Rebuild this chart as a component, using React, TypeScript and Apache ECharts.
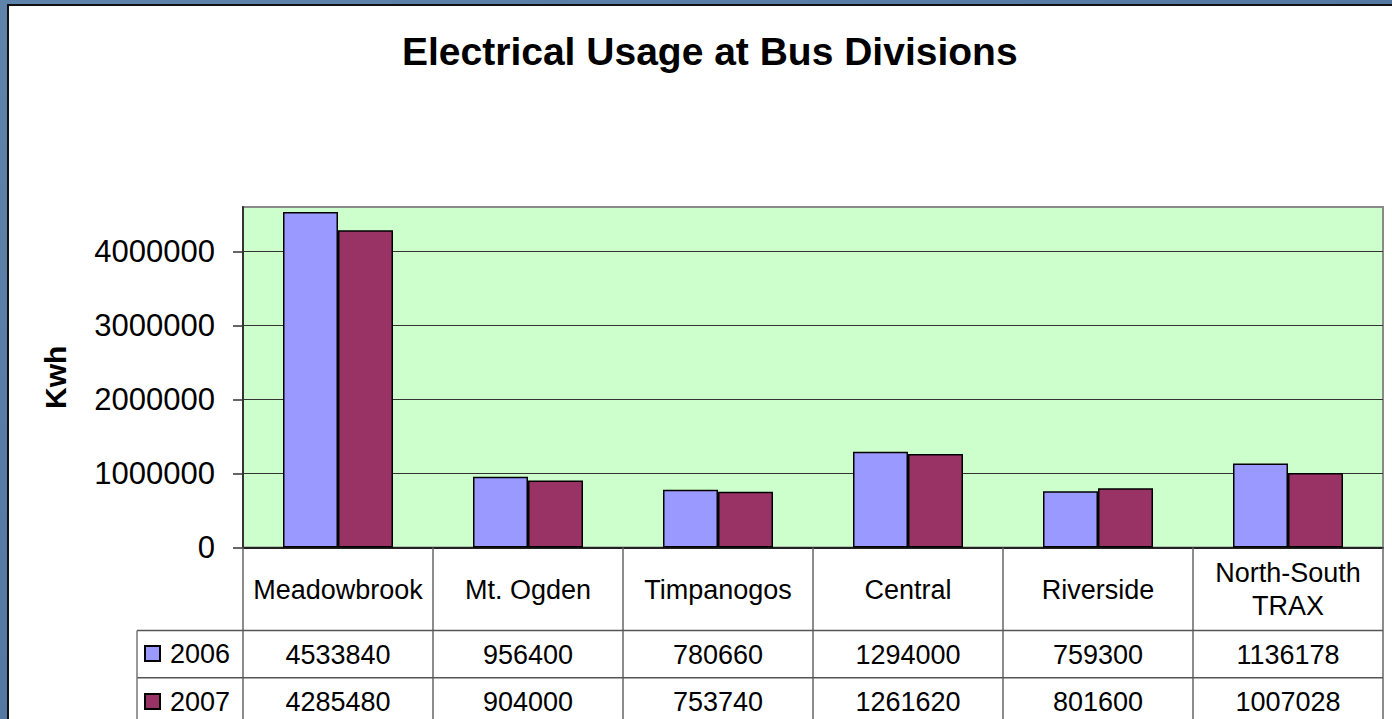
import React, { useEffect, useRef } from "react";
import * as echarts from "echarts";

const chartTitle = "Electrical Usage at Bus Divisions";
const yAxisName = "Kwh";
const categories = ["Meadowbrook", "Mt. Ogden", "Timpanogos", "Central", "Riverside", "North-South\nTRAX"];
const seriesNames = ["2006", "2007"];
const values2006 = [4533840, 956400, 780660, 1294000, 759300, 1136178];
const values2007 = [4285480, 904000, 753740, 1261620, 801600, 1007028];
const yTickValues = [0, 1000000, 2000000, 3000000, 4000000];
const seriesColors = ["#9999FF", "#993366"];

const FONT = "'Liberation Sans', Arial, sans-serif";

export default function App() {
  const ref = useRef<HTMLDivElement>(null);

  useEffect(() => {
    if (!ref.current) return;
    const chart = echarts.init(ref.current, null, { renderer: "svg" });

    const gridLeft = 243;
    const gridTop = 207;
    const gridRight = 1383;
    const gridBottom = 547.5;
    const row1 = 630.5;
    const row2 = 677.7;
    const tableLeft = 137;

    const tableLineStyle = { stroke: "#555", lineWidth: 1.5 };

    const option: any = {
      animation: false,
      backgroundColor: {
        type: "linear",
        x: 0,
        y: 0,
        x2: 1,
        y2: 1,
        colorStops: [
          { offset: 0, color: "#5f83ab" },
          { offset: 0.5, color: "#5478a2" },
          { offset: 1, color: "#5d81a9" },
        ],
      },
      textStyle: { fontFamily: FONT },
      graphic: [
        {
          type: "rect",
          z: -10,
          shape: { x: 8, y: 5, width: 1400, height: 730 },
          style: { fill: "#ffffff", stroke: "#111", lineWidth: 2 },
        },
        {
          type: "line",
          z: 10,
          shape: { x1: tableLeft, y1: row1, x2: gridRight, y2: row1 },
          style: tableLineStyle,
        },
        {
          type: "line",
          z: 10,
          shape: { x1: tableLeft, y1: row2, x2: gridRight, y2: row2 },
          style: tableLineStyle,
        },
        {
          type: "line",
          z: 10,
          shape: { x1: tableLeft, y1: row1, x2: tableLeft, y2: 730 },
          style: { stroke: "#777", lineWidth: 1.5 },
        },
      ],
      title: {
        text: chartTitle,
        left: 402,
        top: 32,
        padding: 0,
        textStyle: { fontFamily: FONT, fontSize: 39, fontWeight: "bold", color: "#000" },
      },
      legend: {
        data: seriesNames,
        orient: "vertical",
        left: 144,
        top: 640,
        padding: 0,
        itemWidth: 15,
        itemHeight: 15,
        itemGap: 21,
        icon: "rect",
        selectedMode: false,
        textStyle: { fontFamily: FONT, fontSize: 27, lineHeight: 27, color: "#000", padding: [0, 0, 0, 5] },
      },
      grid: {
        left: gridLeft,
        top: gridTop,
        right: 1392 - gridRight,
        bottom: 719 - gridBottom,
        show: true,
        backgroundColor: "#CCFFCC",
        borderColor: "#8a8a8a",
        borderWidth: 2,
        containLabel: false,
        outerBoundsMode: "none",
      },
      xAxis: [
        {
          type: "category",
          data: categories,
          position: "bottom",
          axisLine: { show: true, lineStyle: { color: "#222", width: 2 } },
          axisTick: { show: true, alignWithLabel: false, length: 190, lineStyle: { color: "#666", width: 1.5 } },
          axisLabel: {
            interval: 0,
            margin: 42,
            verticalAlign: "middle",
            fontFamily: FONT,
            fontSize: 27,
            lineHeight: 33,
            color: "#000",
            align: "center",
          },
          splitLine: { show: false },
        },
        {
          type: "category",
          data: categories,
          position: "bottom",
          offset: row1 - gridBottom,
          axisLine: { show: false },
          axisTick: { show: false },
          axisLabel: {
            interval: 0,
            margin: 24,
            verticalAlign: "middle",
            fontFamily: FONT,
            fontSize: 27,
            color: "#000",
            formatter: (_v: string, i: number) => String(values2006[i]),
          },
        },
        {
          type: "category",
          data: categories,
          position: "bottom",
          offset: row2 - gridBottom,
          axisLine: { show: false },
          axisTick: { show: false },
          axisLabel: {
            interval: 0,
            margin: 24,
            verticalAlign: "middle",
            fontFamily: FONT,
            fontSize: 27,
            color: "#000",
            formatter: (_v: string, i: number) => String(values2007[i]),
          },
        },
      ],
      yAxis: {
        type: "value",
        min: 0,
        max: 4600000,
        interval: 1000000,
        name: yAxisName,
        nameLocation: "middle",
        nameRotate: 90,
        nameGap: 173,
        nameTextStyle: { fontFamily: FONT, fontSize: 30, fontWeight: "bold", color: "#000" },
        axisLine: { show: true, lineStyle: { color: "#333", width: 2 } },
        axisTick: {
          show: true,
          inside: false,
          length: 10,
          lineStyle: { color: "#333", width: 1.5 },
          customValues: yTickValues,
        },
        axisLabel: {
          margin: 28,
          fontFamily: FONT,
          fontSize: 31,
          color: "#000",
          customValues: yTickValues,
          formatter: (v: number) => String(v),
        },
        splitLine: { show: true, lineStyle: { color: "#333", width: 1.2 } },
      },
      series: [
        {
          name: seriesNames[0],
          type: "bar",
          data: values2006,
          barWidth: 55,
          barGap: "0%",
          itemStyle: { color: seriesColors[0], borderColor: "#000", borderWidth: 1.5 },
        },
        {
          name: seriesNames[1],
          type: "bar",
          data: values2007,
          barWidth: 55,
          barGap: "0%",
          itemStyle: { color: seriesColors[1], borderColor: "#000", borderWidth: 1.5 },
        },
      ],
    };

    chart.setOption(option);
    return () => chart.dispose();
  }, []);

  return (
    <div
      ref={ref}
      style={{ position: "fixed", left: 0, top: 0, width: 1392, height: 719 }}
    />
  );
}
